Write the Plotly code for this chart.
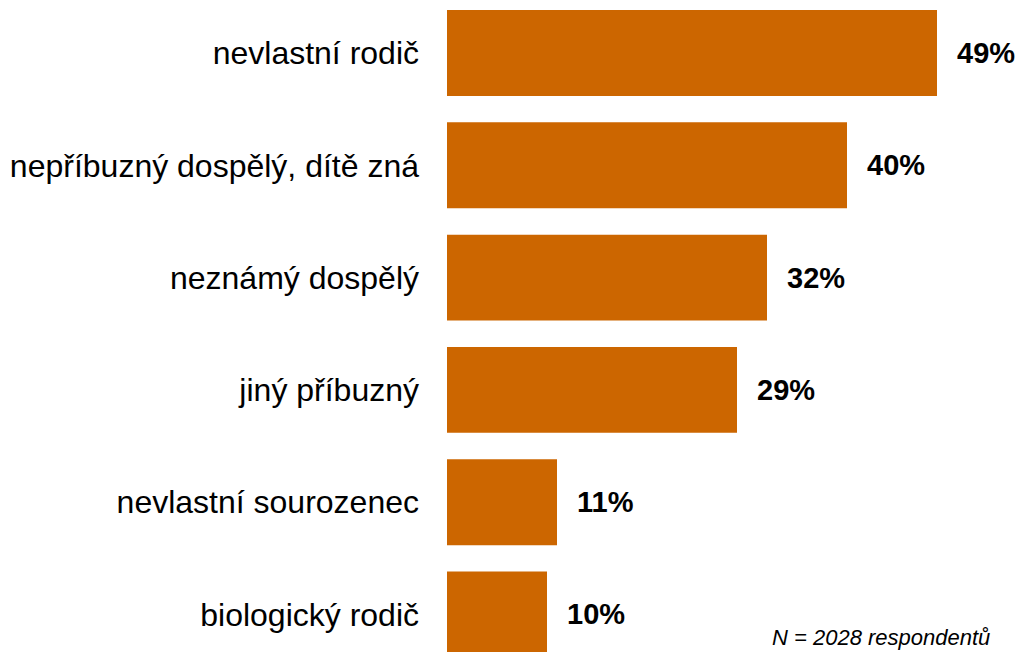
import plotly.graph_objects as go

categories = ["nevlastní rodič", "nepříbuzný dospělý, dítě zná", "neznámý dospělý",
              "jiný příbuzný", "nevlastní sourozenec", "biologický rodič"]
values = [49, 40, 32, 29, 11, 10]
value_labels = ["49%", "40%", "32%", "29%", "11%", "10%"]
footnote = "N = 2028 respondentů"

W, H = 1018, 652
L = 447
FONT = "Arial, Liberation Sans, sans-serif"

fig = go.Figure()
fig.add_trace(go.Bar(
    x=values, y=categories, orientation="h",
    marker=dict(color="#CC6600", line=dict(width=0)),
    width=0.765, hoverinfo="skip",
))

for c, v, t in zip(categories, values, value_labels):
    fig.add_annotation(x=v, y=c, text="<b>" + t + "</b>", showarrow=False,
                       xanchor="left", xshift=18, font=dict(family=FONT, size=29, color="black"))

fig.add_annotation(xref="paper", yref="paper", x=(770 - L) / (W - L), y=0,
                   xanchor="left", yanchor="bottom", showarrow=False,
                   text="<i>" + footnote + "</i>", font=dict(family=FONT, size=22, color="black"))

fig.update_layout(
    width=W, height=H,
    margin=dict(l=L, r=0, t=0, b=0),
    paper_bgcolor="white", plot_bgcolor="white",
    showlegend=False,
    xaxis=dict(range=[0, (W - L) / 10], visible=False, fixedrange=True),
    yaxis=dict(categoryorder="array", categoryarray=categories,
               range=[5.334, -0.472], showgrid=False, zeroline=False, showline=False,
               ticks="", ticklabelstandoff=27, fixedrange=True,
               tickfont=dict(family=FONT, size=32, color="black")),
)

fig.write_html("out.html", config={"displayModeBar": False},
               post_script="document.body.style.margin='0';document.body.style.overflow='hidden';")
